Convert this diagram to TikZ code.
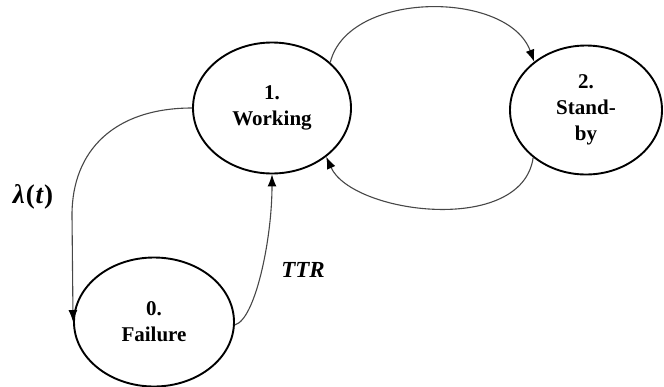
\documentclass[tikz,border=0pt]{standalone}
\usepackage{fontspec}
\setmainfont{Liberation Serif}
\usetikzlibrary{arrows.meta,shapes.geometric}

\begin{document}
\begin{tikzpicture}[x=1pt,y=-1pt,
  state/.style={ellipse,draw=black,line width=1.9pt,inner sep=0pt,
    align=center,font=\fontsize{21pt}{26pt}\selectfont\bfseries},
  trans/.style={draw=black!72,line width=1.1pt,
    -{Latex[length=12pt,width=9pt,color=black]}},
  rate/.style={font=\fontsize{23pt}{26pt}\selectfont\bfseries}
]
\useasboundingbox (0,0) rectangle (664,386);

% states of the system
\node[state,minimum width=158pt,minimum height=131pt] (w) at (272,108) {1.\\Working};
\node[state,minimum width=152pt,minimum height=129pt] (s) at (586,110) {2.\\Stand-\\by};
\node[state,minimum width=160pt,minimum height=129pt] (f) at (154,322) {0.\\Failure};

% switching between working and stand-by
\draw[trans] (w.38) .. controls (348,-10) and (508,-10) .. (s.137);
\draw[trans] (s.222) .. controls (522,236) and (352,214) .. (w.318);

% failure and repair
\coordinate (bend) at (72,215);
\draw[trans] (w.180) .. controls (115,108) and (72,150) .. (bend) -- (f.180);
\draw[trans] (f.358) .. controls (255,320) and (272,240) .. (w.270);

% transition labels
\node[rate,font=\fontsize{27pt}{30pt}\selectfont\bfseries] (lam) at (33,197)
  {\itshape λ\kern1pt\upshape(\kern1pt\itshape t\kern1pt\upshape)};
\node[rate] (ttr) at (303,270) {\itshape TTR};
\end{tikzpicture}
\end{document}
